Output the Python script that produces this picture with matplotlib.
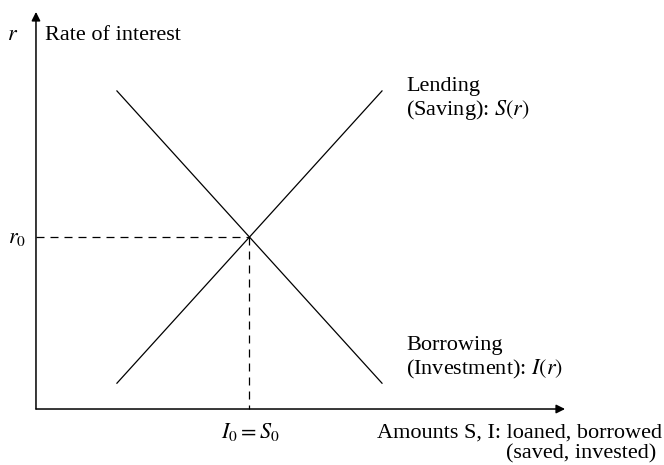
import matplotlib
matplotlib.use("Agg")
import matplotlib.pyplot as plt

plt.rcParams['font.family'] = ['Liberation Serif', 'DejaVu Serif']
plt.rcParams['mathtext.fontset'] = 'stix'

# supply / demand lines for loanable funds (arbitrary units)
saving_amount = [1.53, 6.54]
saving_rate = [0.65, 8.01]
invest_amount = [1.53, 6.54]
invest_rate = [8.01, 0.65]

# equilibrium
I0 = 4.03
r0 = 4.33

x_axis_end = 10.0
y_axis_end = 10.0

fig = plt.figure(figsize=(6.64, 4.65), dpi=100)
ax = fig.add_axes([0, 0, 1, 1])
ax.set_xlim(-0.68, 11.87)
ax.set_ylim(-1.41, 10.30)
ax.axis('off')

lw = 0.9
ax.plot(saving_amount, saving_rate, color='black', lw=lw)
ax.plot(invest_amount, invest_rate, color='black', lw=lw)

# dashed guides
ax.plot([0, I0], [r0, r0], color='black', lw=lw, dashes=(6.4, 4.8))
ax.plot([I0, I0], [r0, 0], color='black', lw=lw, dashes=(6.4, 4.8))

# axes with arrows
arr = dict(arrowstyle='-|>', mutation_scale=13, lw=1.1, color='black',
           shrinkA=0, shrinkB=0)
ax.annotate('', xy=(x_axis_end, 0), xytext=(0, 0), arrowprops=arr)
ax.annotate('', xy=(0, y_axis_end), xytext=(0, 0), arrowprops=arr)

fs = 16
base = dict(fontsize=fs, va='baseline')
ax.text(-0.45, 9.295, '$r$', ha='center', **base)
ax.text(0.17, 9.295, 'Rate of interest', ha='left', **base)
ax.text(-0.35, 4.18, '$r_0$', ha='center', **base)
ax.text(I0 + 0.02, -0.73, '$I_0 = S_0$', ha='center', **base)
ax.text(11.83, -0.73, 'Amounts S, I: loaned, borrowed', ha='right', **base)
ax.text(11.72, -1.234, '(saved, invested)', ha='right', **base)

ax.text(7.0, 8.01, 'Lending', ha='left', **base)
ax.text(7.0, 7.406, '(Saving): $S(r)$', ha='left', **base)
ax.text(7.0, 1.486, 'Borrowing', ha='left', **base)
ax.text(7.0, 0.882, '(Investment): $I(r)$', ha='left', **base)

fig.savefig('out.png', dpi=100)
